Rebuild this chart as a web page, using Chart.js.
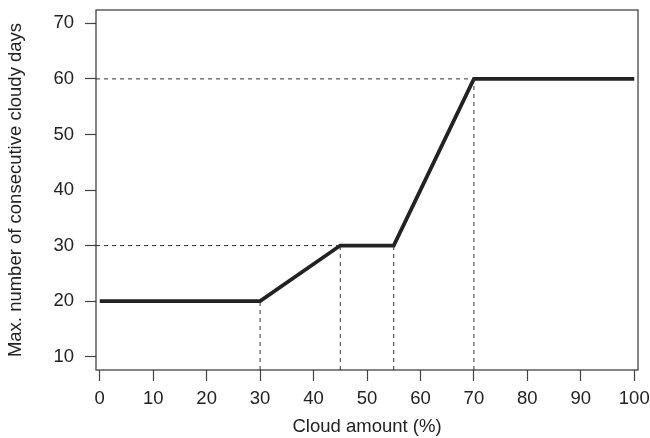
<!DOCTYPE html>
<html>
<head>
<meta charset="utf-8">
<script src="https://cdn.jsdelivr.net/npm/chart.js@4.4.1/dist/chart.umd.min.js"></script>
<style>
  html, body { margin: 0; padding: 0; background: #fff; }
  #wrap { width: 650px; height: 438px; }
</style>
</head>
<body>
<div id="wrap"><canvas id="cloudChart"></canvas></div>
<script>
// --- DATA ---
const cloudAmount = [0, 30, 45, 55, 70, 100];
const maxCloudyDays = [20, 20, 30, 30, 60, 60];
const xTicks = [0, 10, 20, 30, 40, 50, 60, 70, 80, 90, 100];
const yTicks = [10, 20, 30, 40, 50, 60, 70];
// reference levels (dashed guides)
const hGuides = [{ x: 70, y: 60 }, { x: 45, y: 30 }];
const vGuides = [{ x: 30, y: 20 }, { x: 45, y: 30 }, { x: 55, y: 30 }, { x: 70, y: 60 }];

const xMin = -0.7, xMax = 100.7;
const yMin = 7.6, yMax = 72.4;

const font = { family: 'Liberation Sans, Arial, sans-serif', size: 18.5 };

// --- DATASETS ---
const datasets = [];
hGuides.forEach(g => datasets.push({
    data: [{ x: xMin, y: g.y }, { x: g.x, y: g.y }],
    borderColor: '#333', borderWidth: 1, borderDash: [4, 4],
    pointRadius: 0, showLine: true
}));
vGuides.forEach(g => datasets.push({
    data: [{ x: g.x, y: yMin }, { x: g.x, y: g.y }],
    borderColor: '#333', borderWidth: 1, borderDash: [4, 4],
    pointRadius: 0, showLine: true
}));
datasets.push({
    data: cloudAmount.map((x, i) => ({ x: x, y: maxCloudyDays[i] })),
    borderColor: '#222', borderWidth: 3.8,
    pointRadius: 0, showLine: true, borderJoinStyle: 'miter'
});

// box around the plot area
const boxPlugin = {
    id: 'box',
    afterDatasetsDraw(chart) {
        const a = chart.chartArea, c = chart.ctx;
        c.save();
        c.strokeStyle = '#333';
        c.lineWidth = 1.2;
        c.strokeRect(a.left, a.top, a.right - a.left, a.bottom - a.top);
        c.restore();
    }
};

const ctx = document.getElementById('cloudChart').getContext('2d');
new Chart(ctx, {
    type: 'scatter',
    data: { datasets: datasets },
    options: {
        responsive: true,
        maintainAspectRatio: false,
        animation: false,
        layout: { padding: { top: 10, right: 12, left: 0, bottom: 0 } },
        plugins: { legend: { display: false }, tooltip: { enabled: false } },
        scales: {
            x: {
                type: 'linear', min: xMin, max: xMax,
                afterBuildTicks: s => { s.ticks = xTicks.map(v => ({ value: v })); },
                afterFit: s => { s.height = 68; s.paddingLeft = 0; s.paddingRight = 0; },
                grid: { drawOnChartArea: false, tickLength: 11, color: '#444', tickWidth: 1.2 },
                border: { display: false },
                ticks: { color: '#222', font: font, padding: 7, maxRotation: 0 },
                title: { display: true, text: 'Cloud amount (%)', color: '#222', font: font, padding: { top: 4, bottom: 0 } }
            },
            y: {
                type: 'linear', min: yMin, max: yMax,
                afterBuildTicks: s => { s.ticks = yTicks.map(v => ({ value: v })); },
                afterFit: s => { s.width = 96; s.paddingTop = 0; s.paddingBottom = 0; },
                grid: { drawOnChartArea: false, tickLength: 11, color: '#444', tickWidth: 1.2 },
                border: { display: false },
                ticks: { color: '#222', font: font, padding: 11 },
                title: { display: true, text: 'Max. number of consecutive cloudy days', color: '#222', font: font, padding: { top: 5, bottom: 4 } }
            }
        }
    },
    plugins: [boxPlugin]
});
</script>
</body>
</html>
